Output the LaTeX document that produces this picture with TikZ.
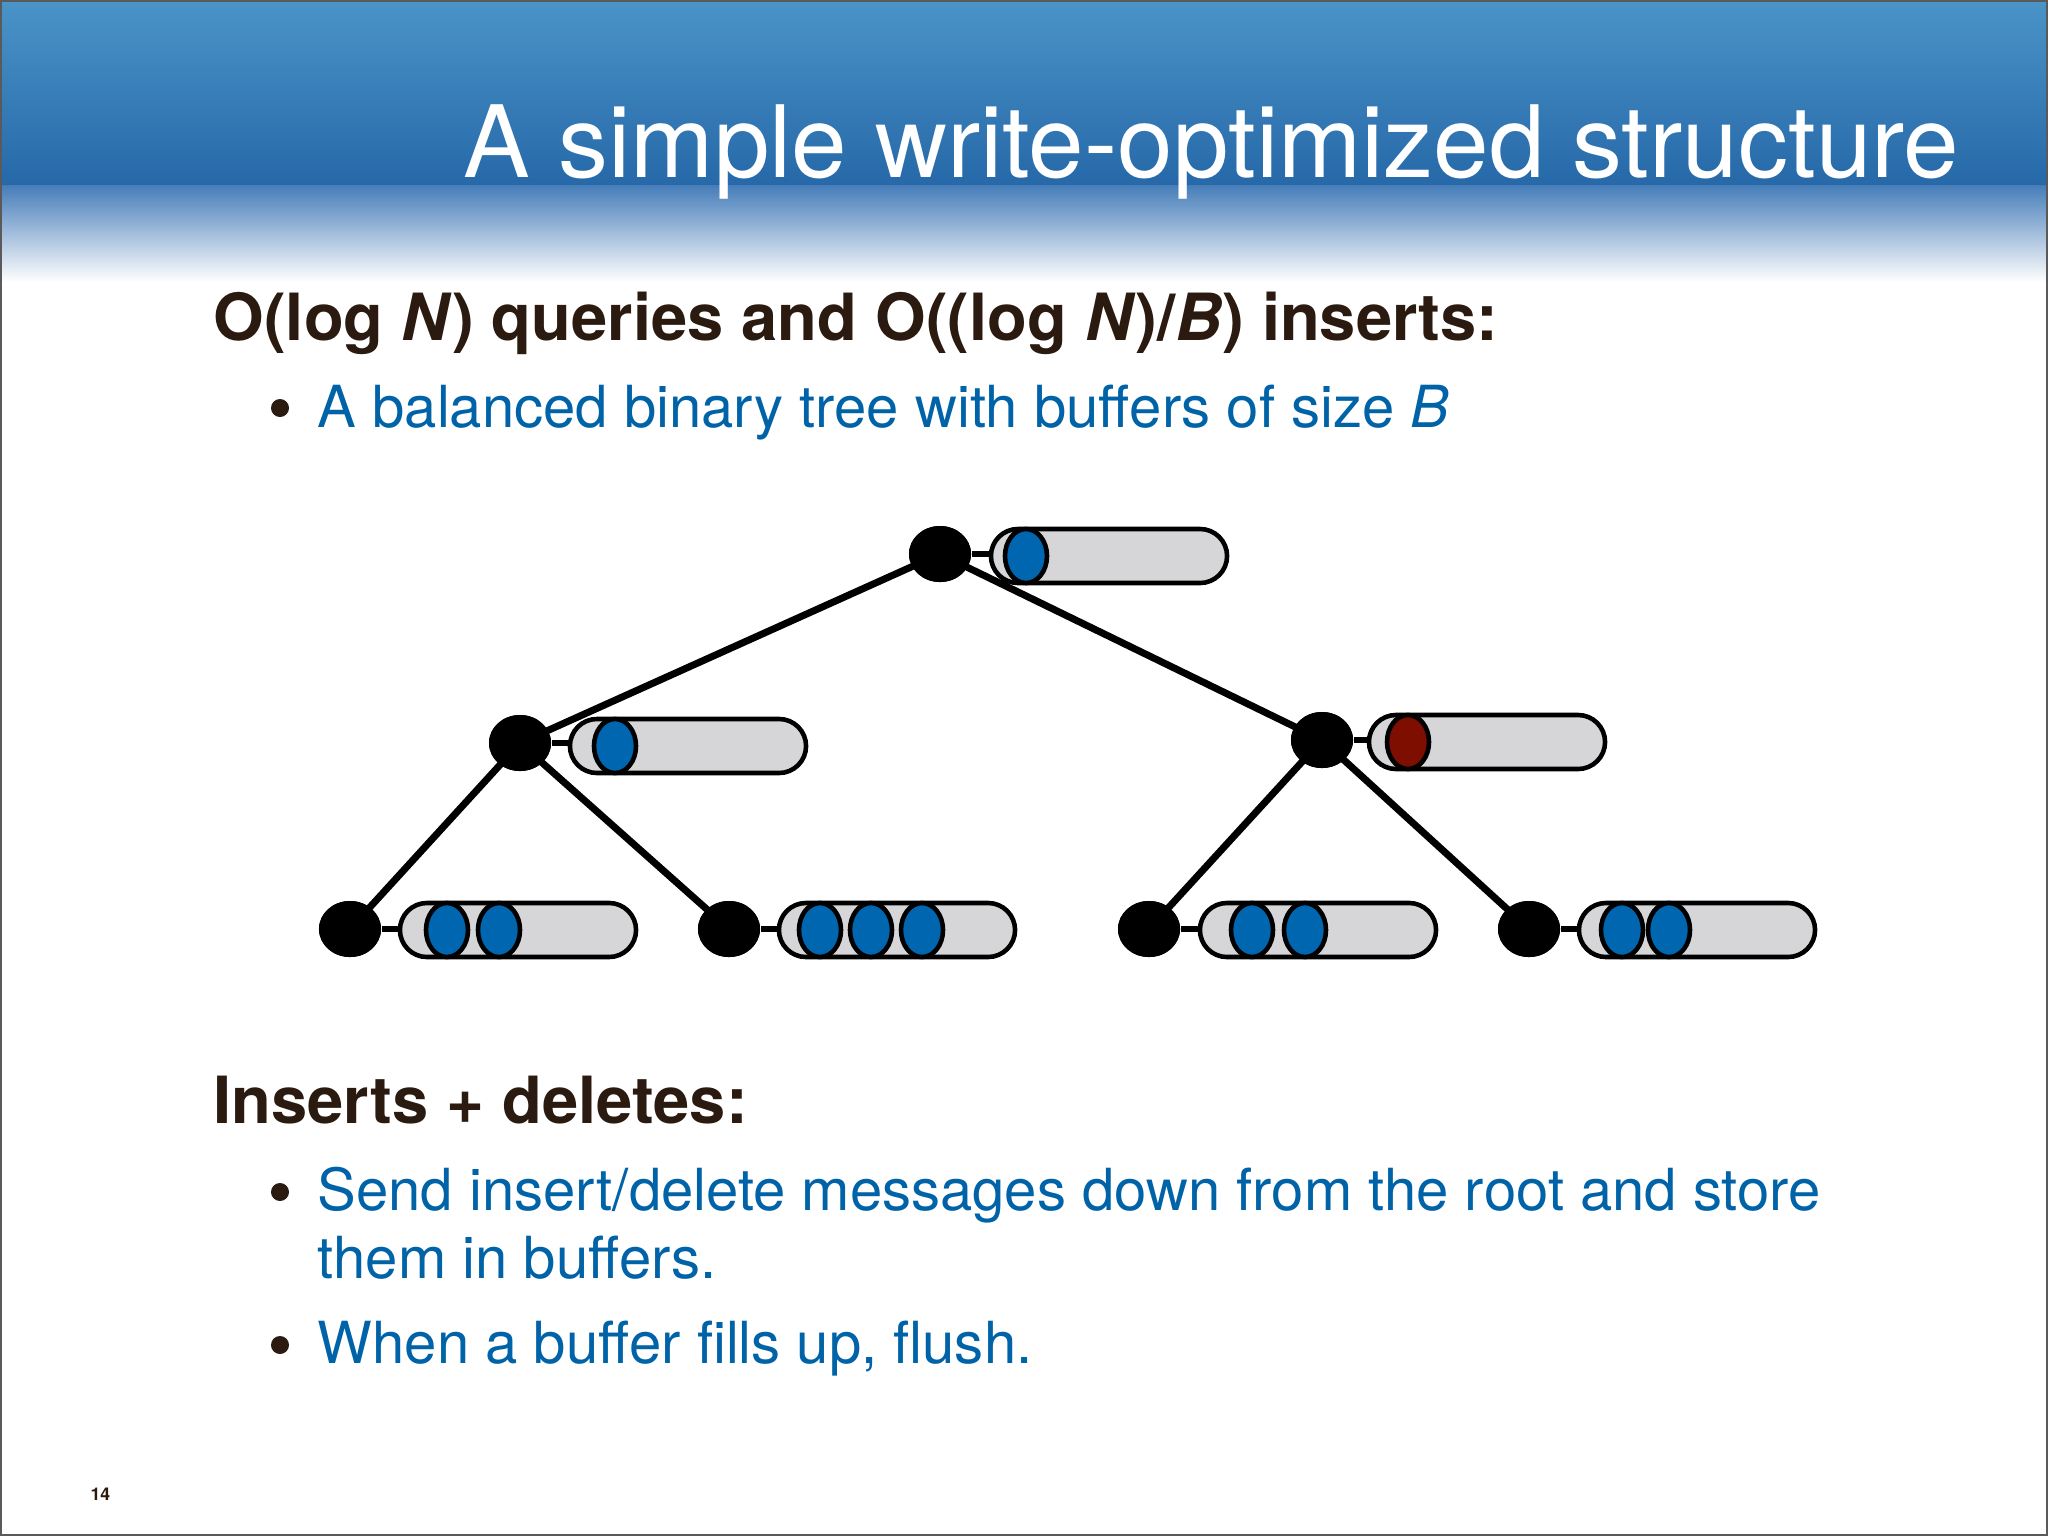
\documentclass[tikz,border=0pt]{standalone}
\usepackage{fontspec}
\setmainfont{TeX Gyre Heros}
\usetikzlibrary{shapes.geometric,shapes.misc}
\definecolor{hdrtop}{RGB}{74,148,200}
\definecolor{hdrmid}{RGB}{38,104,168}
\definecolor{hdrfade}{RGB}{70,125,185}
\definecolor{headbrown}{RGB}{42,26,16}
\definecolor{bodyblue}{RGB}{0,99,168}
\definecolor{msgblue}{RGB}{0,102,176}
\definecolor{msgred}{RGB}{125,14,0}
\definecolor{bufgray}{RGB}{214,214,217}
\definecolor{framegray}{RGB}{90,90,90}
\tikzset{
  treenode/.style={ellipse, fill=black, draw=none, minimum width=0.62cm, minimum height=0.56cm, inner sep=0pt},
  buffer/.style={rounded rectangle, draw=black, fill=bufgray, line width=1.3pt, minimum width=2.36cm, minimum height=0.54cm, inner sep=0pt},
  msg/.style={ellipse, draw=black, fill=msgblue, line width=1.3pt, minimum width=0.42cm, minimum height=0.54cm, inner sep=0pt},
  msgr/.style={msg, fill=msgred},
  edge/.style={line width=2pt, black},
  link/.style={line width=1.6pt, black},
  heading/.style={anchor=base west, inner sep=0pt, text=headbrown, font=\fontsize{18.5pt}{22pt}\selectfont\bfseries},
  bodytext/.style={anchor=base west, inner sep=0pt, text=bodyblue, font=\fontsize{16.5pt}{19.5pt}\selectfont},
  bulletdot/.style={circle, fill=headbrown, minimum size=0.18cm, inner sep=0pt}
}
\begin{document}
\begin{tikzpicture}[x=0.01cm, y=-0.01cm]
\useasboundingbox (0,0) rectangle (2048,1536);
% background
\fill[white] (0,0) rectangle (2048,1536);
\shade[top color=hdrtop, bottom color=hdrmid] (0,0) rectangle (2048,186);
\shade[top color=hdrfade, bottom color=white] (0,185) rectangle (2048,282);
\draw[framegray, line width=0.8pt] (0.5,0.5) rectangle (2047.5,1535.5);
% title
\node[anchor=base east, inner sep=0pt, text=white, font=\fontsize{28.4pt}{32pt}\selectfont] (title) at (1960,177) {A simple write-optimized structure};
% heading 1
\node[heading] (h1) at (213,340) {O(log \textit{N}) queries and O((log \textit{N})/\textit{B}) inserts:};
\node[bulletdot] (d1) at (280,408) {};
\node[bodytext] (b1) at (317,427) {A balanced binary tree with buffers of size \textit{B}};
% tree nodes
\node[treenode] (r) at (940,554) {};
\node[treenode] (lm) at (520,743) {};
\node[treenode] (rm) at (1322,740) {};
\node[treenode] (ll) at (350,929) {};
\node[treenode] (lr) at (729,929) {};
\node[treenode] (rl) at (1149,929) {};
\node[treenode] (rr) at (1529,929) {};
% tree edges
\draw[edge] (r.center) -- (lm.center);
\draw[edge] (r.center) -- (rm.center);
\draw[edge] (lm.center) -- (ll.center);
\draw[edge] (lm.center) -- (lr.center);
\draw[edge] (rm.center) -- (rl.center);
\draw[edge] (rm.center) -- (rr.center);
% redraw nodes on top of edges
\node[treenode] at (r) {};
\node[treenode] at (lm) {};
\node[treenode] at (rm) {};
\node[treenode] at (ll) {};
\node[treenode] at (lr) {};
\node[treenode] at (rl) {};
\node[treenode] at (rr) {};
% buffers
\node[buffer] (rb) at (1109,556) {};
\node[buffer] (lmb) at (688,746) {};
\node[buffer] (rmb) at (1487,742) {};
\node[buffer] (llb) at (518,930) {};
\node[buffer] (lrb) at (897,930) {};
\node[buffer] (rlb) at (1318,930) {};
\node[buffer] (rrb) at (1697,930) {};
\draw[link] (r) -- (r -| rb.west);
\draw[link] (lm) -- (lm -| lmb.west);
\draw[link] (rm) -- (rm -| rmb.west);
\draw[link] (ll) -- (ll -| llb.west);
\draw[link] (lr) -- (lr -| lrb.west);
\draw[link] (rl) -- (rl -| rlb.west);
\draw[link] (rr) -- (rr -| rrb.west);
% messages
\node[msg] (m1) at (1026,556) {};
\node[msg] (m2) at (615,746) {};
\node[msgr] (m3) at (1408,742) {};
\node[msg] (m4) at (447,930) {};
\node[msg] (m5) at (499,930) {};
\node[msg] (m6) at (820,930) {};
\node[msg] (m7) at (871,930) {};
\node[msg] (m8) at (922,930) {};
\node[msg] (m9) at (1252,930) {};
\node[msg] (m10) at (1305,930) {};
\node[msg] (m11) at (1622,930) {};
\node[msg] (m12) at (1669,930) {};
% heading 2
\node[heading] (h2) at (213,1123) {Inserts + deletes:};
\node[bulletdot] (d2) at (280,1192) {};
\node[bodytext] (b2) at (317,1210) {Send insert/delete messages down from the root and store};
\node[bodytext] (b2b) at (317,1278) {them in buffers.};
\node[bulletdot] (d3) at (280,1345) {};
\node[bodytext] (b3) at (317,1363) {When a buffer fills up, flush.};
% page number
\node[anchor=base west, inner sep=0pt, text=headbrown, font=\fontsize{5pt}{6pt}\selectfont\bfseries] (pg) at (90,1500) {14};
\end{tikzpicture}
\end{document}
